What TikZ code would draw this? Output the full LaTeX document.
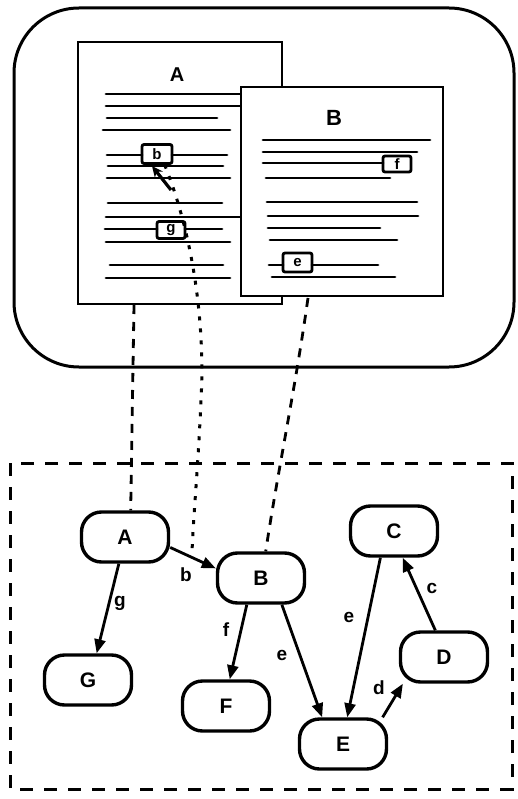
\documentclass[tikz,border=0pt]{standalone}
\usepackage{fontspec}
\setmainfont{Liberation Sans}
\usetikzlibrary{arrows.meta,calc}
\begin{document}
\begin{tikzpicture}[x=1pt,y=-1pt,
  gnode/.style={draw,line width=3.4pt,rounded corners=20pt,minimum width=87pt,minimum height=50pt,inner sep=0pt,font=\fontsize{21}{24}\selectfont\bfseries},
  lbl/.style={inner sep=0pt,font=\fontsize{19}{22}\selectfont\bfseries},
  edge/.style={line width=2.8pt,-{Triangle[length=14pt,width=11pt]}},
  txt/.style={line width=2.8pt,line cap=round},
  anch/.style={draw,line width=2.8pt,rounded corners=2pt,inner sep=0pt,font=\fontsize{15}{16}\selectfont\bfseries},
  page/.style={draw,line width=2.8pt,fill=white,inner sep=0pt},
  dashlink/.style={line width=2.8pt,dash pattern=on 9pt off 8pt},
  dotlink/.style={line width=3pt,dash pattern=on 4pt off 8pt}]
\useasboundingbox (0,0) rectangle (517,799);
% outer rounded frame
\draw[line width=3pt,rounded corners=65pt] (14,8) rectangle (514,367);
% page A
\node[page,minimum width=204pt,minimum height=262pt] (pageA) at (180,173) {};
\node[inner sep=0pt,font=\fontsize{20}{22}\selectfont\bfseries] (tA) at (177,75) {A};
\foreach \y/\a/\b in {94/106/240,106/106/240,118/107/217,130/103/230,166/108/223,178/107/230,203/108/222,217/106/240,242/106/230,265/110/223,278/106/230}
  \draw[txt] (\a,\y) -- (\b,\y);
\draw[txt] (107,155) -- (142,155) (172,155) -- (227,155);
\draw[txt] (105,229) -- (157,229) (185,229) -- (222,229);
\node[anch,minimum width=30pt,minimum height=19pt] (kb) at (157,154) {b};
\node[anch,minimum width=28pt,minimum height=17pt] (kg) at (171,230) {g};
% page B
\node[page,minimum width=202pt,minimum height=209pt] (pageB) at (342,191.5) {};
\node[inner sep=0pt,font=\fontsize{22}{24}\selectfont\bfseries] (tB) at (334,118) {B};
\foreach \y/\a/\b in {140/263/430,152/263/417,178/266/390,202/267/417,216/268/418,228/268/380,240/270/397,277/272/395}
  \draw[txt] (\a,\y) -- (\b,\y);
\draw[txt] (263,163) -- (383,163);
\draw[txt] (269,265) -- (283,265) (312,265) -- (378,265);
\node[anch,minimum width=28pt,minimum height=16pt] (kf) at (397,164) {f};
\node[anch,minimum width=29pt,minimum height=19pt] (ke) at (297.5,262.5) {e};
% cursor
\coordinate (cur1) at (171,190);
\coordinate (cur2) at (152,166);
\draw[line width=3.2pt,-{Stealth[length=11pt,width=10pt]}] (cur1) -- (cur2);
% dashed frame
\draw[line width=3pt,dash pattern=on 13pt off 11pt] (10,463) rectangle (512,789);
% graph nodes
\node[gnode] (A) at (125,537) {A};
\node[gnode] (B) at (261,578) {B};
\node[gnode] (C) at (394,531) {C};
\node[gnode] (D) at (444,657) {D};
\node[gnode] (G) at (88,680) {G};
\node[gnode] (F) at (226,706) {F};
\node[gnode] (E) at (343,744) {E};
% edges
\draw[edge] (A.-13) -- (B.168);
\draw[edge] (A.-103) -- (G.72);
\draw[edge] (B.-118) -- (F.82);
\draw[edge] (B.-52) -- (E.128);
\draw[edge] (C.-117) -- (E.81);
\draw[edge] (E.34) -- (D.-147);
\draw[edge] (D.108) -- (C.-72);
% edge labels
\node[lbl] (lb) at (186,575) {b};
\node[lbl] (lg) at (120,603) {g};
\node[lbl] (lf) at (226,630) {f};
\node[lbl] (le1) at (282,655) {e};
\node[lbl] (le2) at (349,617) {e};
\node[lbl] (ld) at (379,688) {d};
\node[lbl] (lc) at (432,588) {c};
% links between views
\coordinate (pa) at (134,305);
\coordinate (pb) at (308,298);
\coordinate (bpt) at (192,553);
\draw[dashlink] (pa) -- (A.78);
\draw[dashlink] (pb) .. controls (295,390) and (278,470) .. (B.80);
\draw[dotlink] (kb.-55) .. controls (195,240) and (205,330) .. (201,400) .. controls (198,470) and (193,520) .. (bpt);
\end{tikzpicture}
\end{document}
